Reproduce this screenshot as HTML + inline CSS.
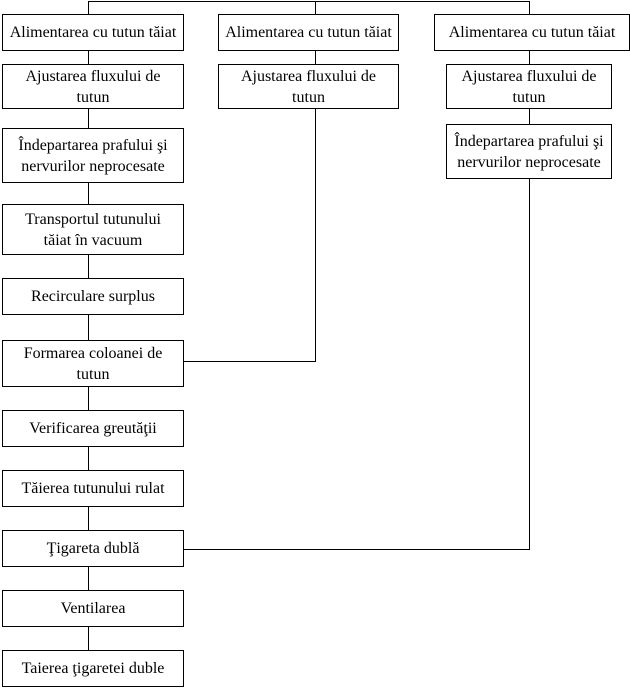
<!DOCTYPE html>
<html><head><meta charset="utf-8"><style>
body{margin:0;width:630px;height:690px;background:#fff;position:relative;overflow:hidden;font-family:"Liberation Serif",serif;font-size:16px;color:#000}
.b{position:absolute;box-sizing:border-box;border:1px solid #000;background:#fff;display:flex;align-items:center;justify-content:center;text-align:center;line-height:21px;white-space:nowrap}
svg{position:absolute;left:0;top:0}
</style></head><body>
<svg width="630" height="690"><g stroke="#000" stroke-width="1" fill="none">
<path d="M88.5 14V1.5H529.5V14M315.5 1.5V14"/>
<path d="M88.5 50V650"/>
<path d="M315.5 50V64M315.5 108V361.5H183"/>
<path d="M529.5 50V64M529.5 108V124M529.5 178V549.5H183"/>
</g></svg>
<div class="b" style="left:2px;top:14px;width:182px;height:37px">Alimentarea cu tutun tăiat</div>
<div class="b" style="left:2px;top:64px;width:182px;height:45px">Ajustarea fluxului de<br>tutun</div>
<div class="b" style="left:2px;top:128px;width:182px;height:55px">Îndepartarea prafului şi<br>nervurilor neprocesate</div>
<div class="b" style="left:2px;top:204px;width:182px;height:51px">Transportul tutunului<br>tăiat în vacuum</div>
<div class="b" style="left:2px;top:278px;width:182px;height:37px">Recirculare surplus</div>
<div class="b" style="left:2px;top:340px;width:182px;height:47px">Formarea coloanei de<br>tutun</div>
<div class="b" style="left:2px;top:410px;width:182px;height:37px">Verificarea greutăţii</div>
<div class="b" style="left:2px;top:470px;width:182px;height:37px">Tăierea tutunului rulat</div>
<div class="b" style="left:2px;top:530px;width:182px;height:37px">Ţigareta dublă</div>
<div class="b" style="left:2px;top:590px;width:182px;height:37px">Ventilarea</div>
<div class="b" style="left:2px;top:650px;width:182px;height:37px">Taierea ţigaretei duble</div>
<div class="b" style="left:218px;top:14px;width:181px;height:37px">Alimentarea cu tutun tăiat</div>
<div class="b" style="left:218px;top:64px;width:181px;height:45px">Ajustarea fluxului de<br>tutun</div>
<div class="b" style="left:434px;top:14px;width:196px;height:37px">Alimentarea cu tutun tăiat</div>
<div class="b" style="left:446px;top:64px;width:166px;height:45px">Ajustarea fluxului de<br>tutun</div>
<div class="b" style="left:446px;top:124px;width:166px;height:55px">Îndepartarea prafului şi<br>nervurilor neprocesate</div>
</body></html>
